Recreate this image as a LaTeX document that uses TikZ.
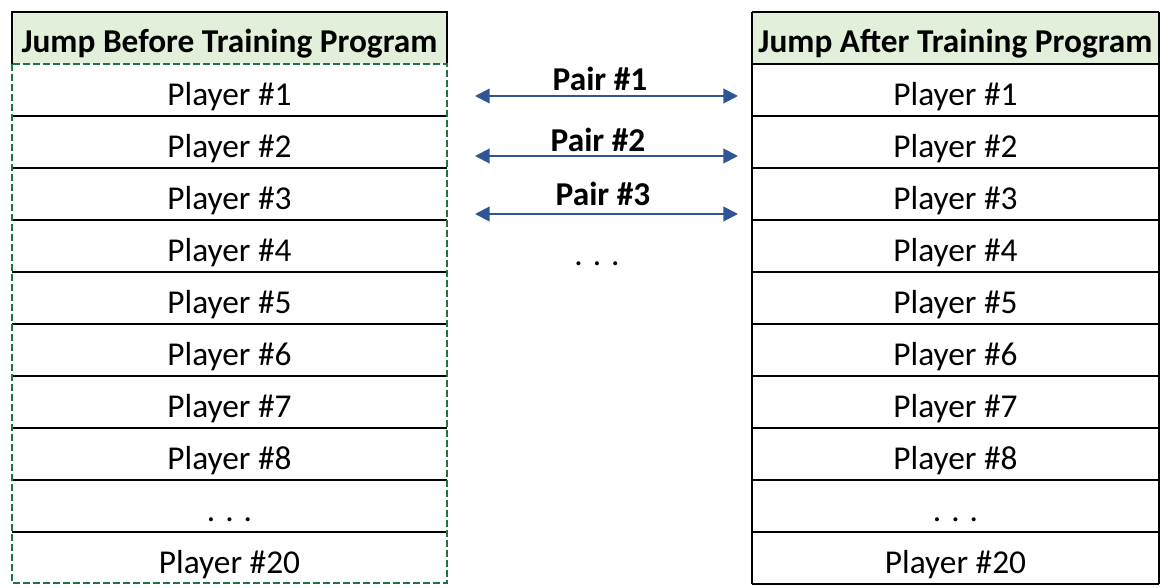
\documentclass[tikz,border=0pt]{standalone}
\usepackage{fontspec}
\setmainfont{Carlito}
\begin{document}
\begin{tikzpicture}[x=0.75pt,y=-0.75pt,
  cell/.style={font=\fontsize{25}{30}\selectfont},
  head/.style={font=\bfseries\fontsize{25}{30}\selectfont},
  pair/.style={<->,>={Triangle[length=11pt,width=11pt]},draw=arrowblue,line width=1.5pt},
  plab/.style={font=\bfseries\fontsize{25}{30}\selectfont}]
\usetikzlibrary{arrows.meta}
\definecolor{headgreen}{HTML}{E2EFDA}
\definecolor{selgreen}{HTML}{217346}
\definecolor{arrowblue}{HTML}{2F5597}
\useasboundingbox (0,0) rectangle (1171,588);
% left table
\fill[headgreen] (12,12) rectangle (447,64);
\draw[black,line width=1pt] (12,64) -- (12,12) -- (447,12) -- (447,64);
\node[head] (lh) at (229.5,44) {Jump Before Training Program};
\foreach \y in {116,168,220,272,324,376,428,480,532} \draw[line width=0.8pt] (12,\y) -- (447,\y);
\draw[selgreen,line width=1.6pt,dash pattern=on 5pt off 2.5pt] (12,64) rectangle (447,583);
% right table
\fill[headgreen] (752,12) rectangle (1159,64);
\node[head] (rh) at (955.5,44) {Jump After Training Program};
\foreach \y in {12,64,116,168,220,272,324,376,428,480,532,584} \draw[line width=0.8pt] (752,\y) -- (1159,\y);
\draw[line width=0.8pt] (752,12) -- (752,584) (1159,12) -- (1159,584);
\foreach \i/\t in {1/Player \#1,2/Player \#2,3/Player \#3,4/Player \#4,5/Player \#5,6/Player \#6,7/Player \#7,8/Player \#8,9/. . .,10/Player \#20}{
  \node[cell] (l\i) at (229.5,{45+52*\i+(\i==9?7:0)}) {\t};
  \node[cell] (r\i) at (955.5,{45+52*\i+(\i==9?7:0)}) {\t};
}
% pairs
\coordinate (a1) at (475,96); \coordinate (b1) at (738,96);
\coordinate (a2) at (475,156); \coordinate (b2) at (738,156);
\coordinate (a3) at (475,214); \coordinate (b3) at (738,214);
\draw[pair] (a1) -- (b1); \draw[pair] (a2) -- (b2); \draw[pair] (a3) -- (b3);
\node[plab] (p1) at (600,79) {Pair \#1};
\node[plab] (p2) at (598,140) {Pair \#2};
\node[plab] (p3) at (603,194) {Pair \#3};
\node[cell] (dots) at (597,264) {. . .};
\end{tikzpicture}
\end{document}
